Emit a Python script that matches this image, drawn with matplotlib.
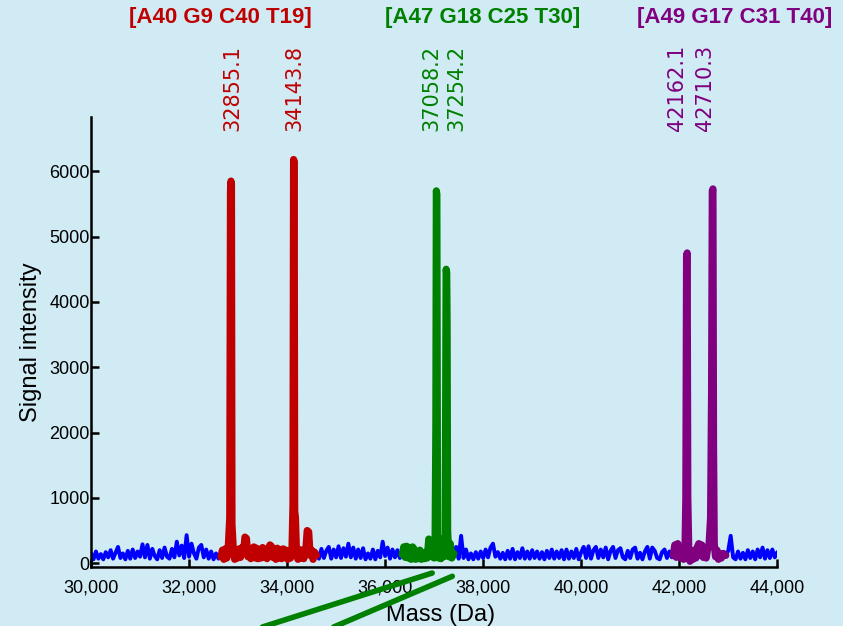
import numpy as np
import matplotlib.pyplot as plt
import matplotlib.transforms as mtransforms

# baseline noise (blue), 50 Da steps
blue1_start = 30000
blue1 = [150, 60, 180, 70, 140, 60, 170, 90, 200, 70, 160, 250, 80, 150, 60, 190, 70,
         210, 80, 180, 100, 290, 90, 280, 70, 220, 110, 60, 200, 80, 240, 100, 70, 220,
         90, 330, 120, 270, 80, 430, 100, 300, 150, 70, 240, 280, 90, 210, 70, 180, 60,
         150, 70, 120]
blue2_start = 34600
blue2 = [120, 70, 220, 80, 190, 250, 70, 210, 90, 260, 80, 230, 100, 300, 90, 240, 70,
         210, 80, 230, 60, 150, 70, 210, 60, 190, 90, 330, 110, 240, 70, 210, 90, 200,
         80, 150]
blue3_start = 37400
blue3 = [150, 250, 70, 420, 80, 210, 60, 150, 60, 170, 70, 180, 80, 210, 90, 240, 300,
         100, 170, 70, 160, 60, 190, 70, 220, 60, 170, 80, 230, 70, 180, 70, 200, 80,
         180, 70, 170, 60, 190, 80, 210, 70, 180, 80, 200, 60, 210, 70, 180, 80, 220, 60,
         170, 250, 80, 260, 70, 200, 250, 80, 210, 90, 240, 60, 190, 250, 80, 200, 230,
         90, 60, 190, 80, 210, 240, 70, 160, 60, 180, 250, 70, 240, 190, 80, 60, 170,
         210, 80, 180, 90]
blue4_start = 42950
blue4 = [120, 190, 420, 90, 60, 180, 70, 160, 60, 200, 80, 180, 60, 210, 90, 240, 70,
         200, 80, 210, 90, 170]

# peak groups
red_x = [32650, 32680, 32710, 32740, 32770, 32800, 32830, 32845, 32855, 32865, 32875,
         32900, 32930, 32960, 32990, 33020, 33050, 33080, 33110, 33140, 33170, 33200,
         33230, 33260, 33290, 33320, 33350, 33380, 33410, 33440, 33470, 33500, 33530,
         33560, 33590, 33620, 33650, 33680, 33710, 33740, 33770, 33800, 33830, 33860,
         33890, 33920, 33950, 33980, 34010, 34040, 34070, 34100, 34120, 34132, 34144,
         34155, 34170, 34190, 34220, 34250, 34280, 34310, 34340, 34380, 34410, 34440,
         34470, 34500, 34530, 34560, 34600]
red_y = [100, 200, 60, 220, 80, 250, 700, 5700, 5850, 5800, 600, 250, 60, 200, 80, 220,
         90, 240, 150, 400, 380, 100, 220, 70, 200, 250, 80, 230, 70, 210, 80, 240, 90,
         200, 70, 230, 280, 260, 90, 200, 60, 230, 80, 210, 70, 220, 90, 200, 60, 180,
         80, 230, 900, 6180, 6150, 800, 700, 200, 60, 210, 80, 200, 70, 180, 500, 480,
         120, 200, 60, 170, 120]

green_x = [36350, 36380, 36410, 36440, 36470, 36500, 36530, 36560, 36590, 36620, 36650,
           36680, 36710, 36740, 36770, 36800, 36830, 36860, 36890, 36920, 36950, 36980,
           37000, 37020, 37035, 37045, 37055, 37070, 37090, 37110, 37140, 37170, 37200,
           37225, 37245, 37256, 37264, 37275, 37300, 37330, 37360, 37400]
green_y = [130, 250, 90, 260, 80, 230, 60, 250, 220, 60, 180, 70, 200, 60, 150, 70, 170,
           80, 370, 350, 100, 300, 80, 400, 2100, 5700, 5650, 300, 80, 260, 70, 380, 100,
           400, 4500, 4450, 3700, 500, 100, 300, 80, 150]
# stray green strokes running off below the axis
green_tail1_x = [36960, 30000]
green_tail1_y = [-150, -1810]
green_tail2_x = [37370, 32380]
green_tail2_y = [-200, -1800]

purple_x = [41880, 41910, 41940, 41970, 42000, 42030, 42060, 42090, 42120, 42135, 42150,
            42162, 42175, 42195, 42220, 42250, 42280, 42310, 42340, 42370, 42400, 42430,
            42460, 42490, 42520, 42550, 42580, 42610, 42640, 42660, 42675, 42688, 42700,
            42715, 42740, 42770, 42800, 42830, 42860, 42900, 42950]
purple_y = [120, 280, 90, 300, 250, 80, 200, 60, 300, 1000, 4700, 4750, 1000, 200, 30,
            180, 60, 200, 80, 250, 300, 120, 280, 90, 200, 80, 220, 300, 700, 2600, 5700,
            5730, 1800, 300, 100, 200, 60, 150, 80, 150, 120]

headers = ['[A40 G9 C40 T19]', '[A47 G18 C25 T30]', '[A49 G17 C31 T40]']
header_x = [0.262, 0.573, 0.872]
peak_labels = ['32855.1', '34143.8', '37058.2', '37254.2', '42162.1', '42710.3']
peak_label_x = [32878, 34143, 36939, 37449, 41959, 42531]

bg = '#d0ebf4'
red = '#c00000'
green = '#008000'
purple = '#800080'
label_cols = [red, red, green, green, purple, purple]

fig = plt.figure(figsize=(8.43, 6.26), dpi=100, facecolor=bg)
ax = fig.add_axes([0.108, 0.094, 0.814, 0.719], facecolor=bg)

kw = dict(solid_capstyle='round', solid_joinstyle='round')
for start, vals in [(blue1_start, blue1), (blue2_start, blue2),
                    (blue3_start, blue3), (blue4_start, blue4)]:
    xs = start + 50 * np.arange(len(vals))
    ax.plot(xs, vals, color='#0000ff', lw=2.8, **kw)

ax.plot(red_x, red_y, color=red, lw=5.2, **kw)
ax.plot(green_x, green_y, color=green, lw=5.2, **kw)
ax.plot(green_tail1_x, green_tail1_y, color=green, lw=4.0, clip_on=False, **kw)
ax.plot(green_tail2_x, green_tail2_y, color=green, lw=4.0, clip_on=False, **kw)
ax.plot(purple_x, purple_y, color=purple, lw=5.2, **kw)

ax.set_xlim(30000, 44000)
ax.set_ylim(-60, 6830)
ax.set_xticks(range(30000, 44001, 2000))
ax.set_xticklabels([f'{v:,}' for v in range(30000, 44001, 2000)])
ax.set_yticks(range(0, 6001, 1000))

for s in ['top', 'right']:
    ax.spines[s].set_visible(False)
for s in ['left', 'bottom']:
    ax.spines[s].set_linewidth(1.8)

ax.tick_params(direction='in', length=6, width=1.8, labelsize=13)
ax.tick_params(axis='y', pad=1)
ax.tick_params(axis='x', pad=9)
for t in ax.get_xticklabels() + ax.get_yticklabels():
    t.set_family('Liberation Sans')

ax.set_xlabel('Mass (Da)', fontsize=17, family='Liberation Sans')
ax.set_ylabel('Signal intensity', fontsize=17, family='Liberation Sans')
ax.xaxis.set_label_coords(0.51, -0.082)
ax.yaxis.set_label_coords(-0.072, 0.5)

for txt, hx, c in zip(headers, header_x, [red, green, purple]):
    fig.text(hx, 0.972, txt, color=c, fontsize=16, fontweight='bold',
             family='Liberation Sans', ha='center', va='center')

trans = mtransforms.blended_transform_factory(ax.transData, fig.transFigure)
for txt, lx, c in zip(peak_labels, peak_label_x, label_cols):
    ax.text(lx, 0.79, txt, color=c, fontsize=15, rotation=90, ha='center',
            va='bottom', transform=trans, family='DejaVu Sans')

fig.savefig('out.png', dpi=100, facecolor=bg)
